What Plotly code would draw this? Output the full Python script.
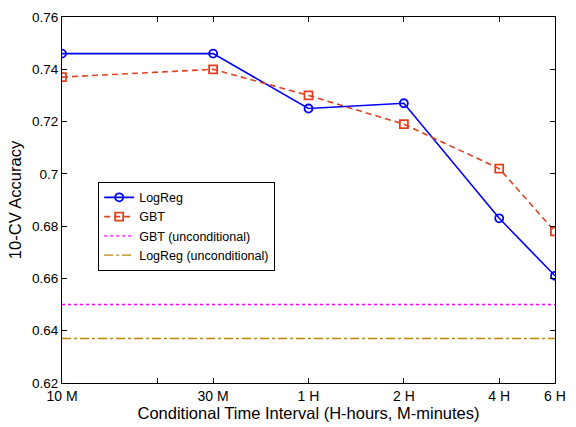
import plotly.graph_objects as go

minutes = [10, 30, 60, 120, 240, 360]
logreg = [0.746, 0.746, 0.725, 0.727, 0.683, 0.661]
gbt = [0.737, 0.740, 0.730, 0.719, 0.702, 0.678]
gbt_uncond = 0.650
logreg_uncond = 0.637
tick_vals = [10, 20, 30, 60, 120, 240, 360]
tick_text = ["10 M", "", "30 M", "1 H", "2 H", "4 H", "6 H"]
y_ticks = [0.62, 0.64, 0.66, 0.68, 0.70, 0.72, 0.74, 0.76]
y_text = ["0.62", "0.64", "0.66", "0.68", "0.7", "0.72", "0.74", "0.76"]

font = "Liberation Sans, Arial, sans-serif"

fig = go.Figure()
fig.add_trace(go.Scatter(x=minutes, y=logreg, name="LogReg", mode="lines+markers",
                         line=dict(color="#0000FF", width=1.6),
                         marker=dict(symbol="circle-open", size=8, color="#0000FF",
                                     line=dict(width=1.8, color="#0000FF"))))
fig.add_trace(go.Scatter(x=minutes, y=gbt, name="GBT", mode="lines+markers",
                         line=dict(color="#E0401E", width=1.6, dash="6px,4px"),
                         marker=dict(symbol="square-open", size=8, color="#E0401E",
                                     line=dict(width=1.8, color="#E0401E"))))
fig.add_trace(go.Scatter(x=[minutes[0], minutes[-1]], y=[gbt_uncond, gbt_uncond],
                         name="GBT (unconditional)", mode="lines",
                         line=dict(color="#FF00FF", width=1.4, dash="dot")))
fig.add_trace(go.Scatter(x=[minutes[0], minutes[-1]], y=[logreg_uncond, logreg_uncond],
                         name="LogReg (unconditional)", mode="lines",
                         line=dict(color="#B8860B", width=1.4, dash="dashdot")))

fig.update_layout(
    width=576, height=427,
    margin=dict(l=62, r=10, t=10, b=43),
    paper_bgcolor="white", plot_bgcolor="white",
    font=dict(family=font, size=14, color="black"),
    showlegend=True,
    legend=dict(x=0.0734, y=0.55, xanchor="left", yanchor="top",
                xref="paper", yref="paper",
                bgcolor="white", bordercolor="black", borderwidth=1,
                font=dict(size=12.5, family=font), tracegroupgap=0,
                itemwidth=30),
    xaxis=dict(type="log", range=[1, 2.5563], tickvals=tick_vals, ticktext=tick_text,
               ticks="inside", ticklen=5, tickcolor="black", showline=True, linecolor="black",
               linewidth=1, mirror="ticks", showgrid=False, zeroline=False,
               title=dict(text="Conditional Time Interval (H-hours, M-minutes)",
                          font=dict(size=16.5), standoff=2),
               tickfont=dict(size=14)),
    yaxis=dict(range=[0.62, 0.76], tickvals=y_ticks, ticktext=y_text,
               ticks="inside", ticklen=5, tickcolor="black", showline=True, linecolor="black",
               linewidth=1, mirror="ticks", showgrid=False, zeroline=False,
               title=dict(text="10-CV Accuracy", font=dict(size=16.5), standoff=6),
               tickfont=dict(size=13.5)),
)

fig.write_html("out.html")
